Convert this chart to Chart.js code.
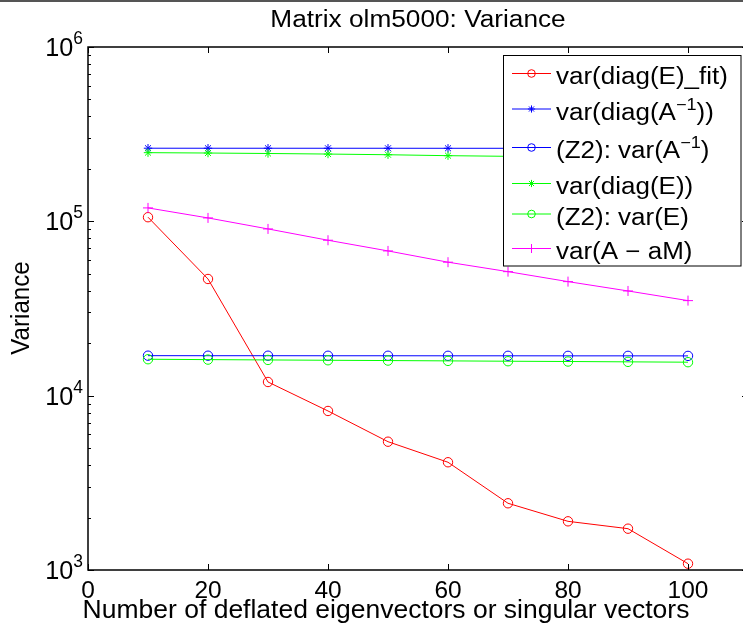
<!DOCTYPE html>
<html><head><meta charset="utf-8">
<script src="https://cdn.jsdelivr.net/npm/chart.js@4.4.1/dist/chart.umd.min.js"></script>
<style>
html,body{margin:0;padding:0;background:#fff;overflow:hidden;}
#wrap{width:743px;height:628px;overflow:hidden;position:relative;background:#fff;}
canvas{display:block;}
</style>
</head><body><div id="wrap"><canvas id="c" width="760" height="628"></canvas></div>
<script>
// ---------- data ----------
const xValues = [10, 20, 30, 40, 50, 60, 70, 80, 90, 100];
const varDiagEFit  = [105600, 46700, 11980, 8170, 5445, 4150, 2414, 1902, 1726, 1087];
const varDiagAinv  = [262700, 262600, 262600, 262500, 262500, 262400, 262400, 262300, 262300, 262200];
const z2VarAinv    = [16960, 16950, 16950, 16940, 16940, 16930, 16930, 16920, 16920, 16910];
const varDiagE     = [247700, 246500, 245000, 243200, 241000, 238000, 236000, 234000, 231500, 229500];
const z2VarE       = [16180, 16100, 16030, 15960, 15900, 15830, 15760, 15700, 15630, 15560];
const varAminusAM  = [119400, 104600, 90460, 77900, 67640, 58290, 51450, 45100, 39870, 35090];
const seriesLabels = ['var(diag(E)_fit)', 'var(diag(A^{\u22121}))', '(Z2): var(A^{\u22121})',
                      'var(diag(E))', '(Z2): var(E)', 'var(A \u2212 aM)'];
const xTickValues = [0, 20, 40, 60, 80, 100];
const xTickLabels = ['0', '20', '40', '60', '80', '100'];
const yTickValues = [1e3, 1e4, 1e5, 1e6];
const yTickLabels = ['10^{3}', '10^{4}', '10^{5}', '10^{6}'];
const chartTitle = 'Matrix olm5000: Variance';
const xAxisTitle = 'Number of deflated eigenvectors or singular vectors';
const yAxisTitle = 'Variance';

// ---------- styles ----------
const seriesValues = [varDiagEFit, varDiagAinv, z2VarAinv, varDiagE, z2VarE, varAminusAM];
const seriesColors = ['#ff0000', '#0000ff', '#0000ff', '#00ff00', '#00ff00', '#ff00ff'];
const seriesMarkers = ['circle', 'star', 'circle', 'star', 'circle', 'cross'];
const markerRadius = {circle: 4.7, star: 4.2, cross: 5};
const legendRadius = {circle: 3.8, star: 3.6, cross: 4.5};
const FONT = '"Liberation Sans", Arial, Helvetica, sans-serif';

function parseRich(str) {
  const parts = str.split(/\^\{([^}]*)\}/);
  return parts.map((t, i) => ({t, sup: i % 2 === 1})).filter(p => p.t.length);
}
function richWidth(ctx, str, size, supSize, sx) {
  let w = 0;
  for (const p of parseRich(str)) {
    ctx.font = (p.sup ? supSize : size) + 'px ' + FONT;
    w += ctx.measureText(p.t).width * sx;
  }
  return w;
}
function drawRich(ctx, str, x, y, o) {
  const size = o.size, supSize = o.supSize || size * 0.7, sx = o.sx || 1, raise = o.raise || size * 0.45;
  const w = richWidth(ctx, str, size, supSize, sx);
  let cx = o.align === 'center' ? x - w / 2 : (o.align === 'right' ? x - w : x);
  ctx.save();
  ctx.fillStyle = '#000';
  ctx.textBaseline = 'alphabetic';
  ctx.textAlign = 'left';
  for (const p of parseRich(str)) {
    const fs = p.sup ? supSize : size;
    ctx.font = fs + 'px ' + FONT;
    const pw = ctx.measureText(p.t).width;
    ctx.save();
    ctx.translate(cx, p.sup ? y - raise : y);
    ctx.scale(sx, 1);
    ctx.fillText(p.t, 0, 0);
    ctx.restore();
    cx += pw * sx;
  }
  ctx.restore();
}
function drawMarker(ctx, style, x, y, r, color) {
  ctx.save();
  ctx.strokeStyle = color;
  ctx.lineWidth = 1;
  ctx.beginPath();
  if (style === 'circle') {
    ctx.arc(x, y, r, 0, Math.PI * 2);
  } else if (style === 'cross') {
    ctx.moveTo(x - r, y); ctx.lineTo(x + r, y);
    ctx.moveTo(x, y - r); ctx.lineTo(x, y + r);
  } else if (style === 'star') {
    ctx.moveTo(x - r, y); ctx.lineTo(x + r, y);
    ctx.moveTo(x, y - r); ctx.lineTo(x, y + r);
    const d = r * 0.7071;
    ctx.moveTo(x - d, y - d); ctx.lineTo(x + d, y + d);
    ctx.moveTo(x - d, y + d); ctx.lineTo(x + d, y - d);
  }
  ctx.stroke();
  ctx.restore();
}

const decorPlugin = {
  id: 'decor',
  afterDraw(chart) {
    const ctx = chart.ctx;
    const a = chart.chartArea;
    const xs = chart.scales.x, ys = chart.scales.y;
    ctx.save();
    // window top edge
    ctx.fillStyle = '#555';
    ctx.fillRect(0, 0, chart.width, 2);
    // axes box
    ctx.strokeStyle = '#000';
    ctx.lineWidth = 1.5;
    ctx.strokeRect(a.left, a.top, a.right - a.left, a.bottom - a.top);
    // ticks (inward)
    ctx.lineWidth = 1;
    ctx.beginPath();
    for (const v of xTickValues) {
      const px = Math.round(xs.getPixelForValue(v)) + 0.5;
      ctx.moveTo(px, a.bottom); ctx.lineTo(px, a.bottom - 6);
      ctx.moveTo(px, a.top); ctx.lineTo(px, a.top + 6);
    }
    for (let e = 3; e <= 6; e++) {
      for (let m = 1; m <= 9; m++) {
        const v = m * Math.pow(10, e);
        if (v > 1e6) break;
        const py = Math.round(ys.getPixelForValue(v)) + 0.5;
        const len = m === 1 ? 6 : 3;
        ctx.moveTo(a.left, py); ctx.lineTo(a.left + len, py);
        ctx.moveTo(a.right, py); ctx.lineTo(a.right - len, py);
      }
    }
    ctx.stroke();
    ctx.restore();

    // tick labels
    xTickValues.forEach((v, i) => {
      drawRich(ctx, xTickLabels[i], xs.getPixelForValue(v), a.bottom + 28, {size: 24, sx: 1.02, align: 'center'});
    });
    yTickValues.forEach((v, i) => {
      const py = ys.getPixelForValue(v);
      drawRich(ctx, yTickLabels[i], a.left - 5, py + 9, {size: 26, supSize: 18, sx: 0.97, raise: 12, align: 'right'});
    });

    // title and axis titles
    drawRich(ctx, chartTitle, (a.left + a.right) / 2, 27, {size: 23, sx: 1.14, align: 'center'});
    drawRich(ctx, xAxisTitle, 386, 618, {size: 25, sx: 1.06, align: 'center'});
    ctx.save();
    ctx.translate(29, 308);
    ctx.rotate(-Math.PI / 2);
    ctx.scale(1, 1.1);
    drawRich(ctx, yAxisTitle, 0, 0, {size: 23, sx: 1.05, align: 'center'});
    ctx.restore();

    // legend
    const box = {l: 503.5, t: 55.5, r: 741, b: 266};
    ctx.save();
    ctx.fillStyle = '#fff';
    ctx.fillRect(box.l, box.t, box.r - box.l, box.b - box.t);
    ctx.strokeStyle = '#000';
    ctx.lineWidth = 1;
    ctx.strokeRect(box.l, box.t, box.r - box.l, box.b - box.t);
    ctx.restore();
    const rowY = [73.5, 109, 147.5, 183.5, 214, 248.5];
    chart.data.datasets.forEach((ds, i) => {
      const y = rowY[i];
      ctx.save();
      ctx.strokeStyle = ds.borderColor;
      ctx.lineWidth = 1;
      ctx.beginPath();
      ctx.moveTo(512, y); ctx.lineTo(551, y);
      ctx.stroke();
      ctx.restore();
      drawMarker(ctx, ds.pointStyle, 531.5, y, legendRadius[ds.pointStyle], ds.borderColor);
      drawRich(ctx, ds.label, 556, y + 10.5, {size: 23, supSize: 16, sx: 1.13, raise: 10, align: 'left'});
    });
  }
};

new Chart(document.getElementById('c'), {
  type: 'line',
  data: {
    datasets: seriesValues.map((vals, i) => ({
      label: seriesLabels[i],
      data: xValues.map((x, j) => ({x: x, y: vals[j]})),
      borderColor: seriesColors[i],
      backgroundColor: 'transparent',
      borderWidth: 1,
      pointStyle: seriesMarkers[i],
      pointRadius: markerRadius[seriesMarkers[i]],
      pointBorderColor: seriesColors[i],
      pointBackgroundColor: 'transparent',
      pointBorderWidth: 1,
      tension: 0,
      fill: false,
      order: seriesValues.length - 1 - i
    }))
  },
  options: {
    responsive: false,
    animation: false,
    devicePixelRatio: 1,
    layout: {padding: {left: 88, top: 47, right: 12, bottom: 58}},
    plugins: {legend: {display: false}, tooltip: {enabled: false}, title: {display: false}},
    scales: {
      x: {type: 'linear', min: 0, max: 110, display: false},
      y: {type: 'logarithmic', min: 1000, max: 1000000, display: false}
    }
  },
  plugins: [decorPlugin]
});
</script>
</body></html>
